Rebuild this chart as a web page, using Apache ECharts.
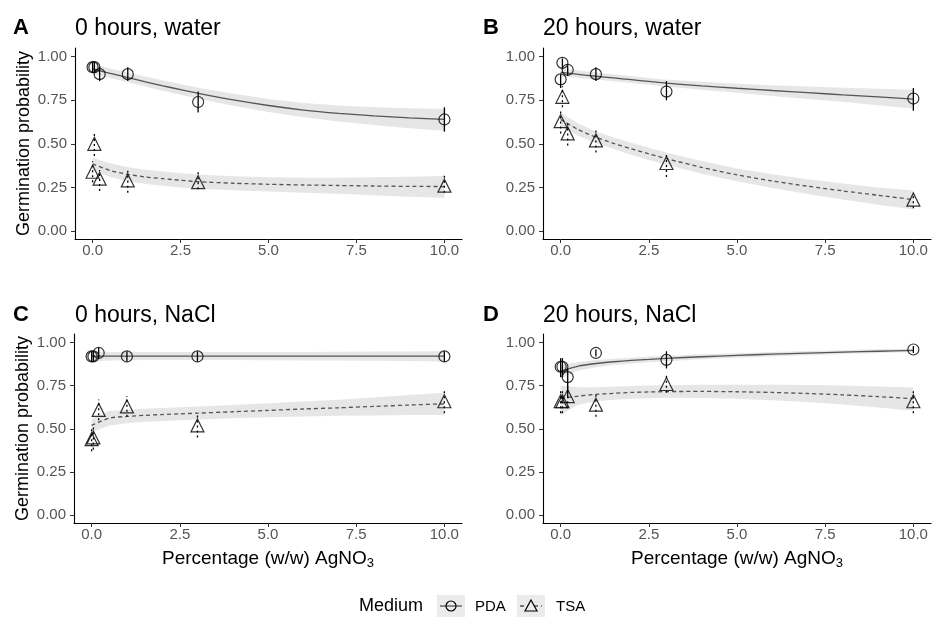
<!DOCTYPE html>
<html>
<head>
<meta charset="utf-8">
<script src="https://cdn.jsdelivr.net/npm/echarts@6/dist/echarts.min.js"></script>
<style>
html,body{margin:0;padding:0;background:#fff;}
#c{width:932px;height:617px;}
</style>
</head>
<body>
<div id="c"></div>
<script>
// ---------- data ----------
const xPts = [0, 0.05, 0.2, 1, 3, 10];
const xFit = [0, 0.5, 1, 1.5, 2, 2.5, 3, 4, 5, 6, 7, 8, 9, 10];
const xTicks = [0, 2.5, 5, 7.5, 10];
const yTicks = [0, 0.25, 0.5, 0.75, 1];
const panelLetters = ['A', 'B', 'C', 'D'];
const panelTitles = ['0 hours, water', '20 hours, water', '0 hours, NaCl', '20 hours, NaCl'];

// Panel A
const aPdaY  = [0.94, 0.94, 0.90, 0.90, 0.74, 0.64];
const aPdaLo = [0.91, 0.91, 0.86, 0.86, 0.68, 0.57];
const aPdaHi = [0.97, 0.97, 0.94, 0.94, 0.80, 0.71];
const aTsaY  = [0.34, 0.50, 0.30, 0.29, 0.28, 0.26];
const aTsaLo = [0.28, 0.43, 0.23, 0.22, 0.24, 0.22];
const aTsaHi = [0.40, 0.57, 0.35, 0.35, 0.34, 0.32];
const aPdaFit    = [0.93, 0.905, 0.88, 0.856, 0.833, 0.811, 0.79, 0.752, 0.72, 0.694, 0.675, 0.66, 0.649, 0.64];
const aPdaBandLo = [0.90, 0.878, 0.853, 0.829, 0.805, 0.782, 0.759, 0.718, 0.683, 0.652, 0.628, 0.608, 0.59, 0.575];
const aPdaBandHi = [0.955, 0.932, 0.908, 0.886, 0.864, 0.843, 0.822, 0.787, 0.758, 0.735, 0.72, 0.71, 0.704, 0.70];
const aTsaFit    = [0.385, 0.347, 0.325, 0.31, 0.30, 0.291, 0.283, 0.274, 0.268, 0.264, 0.261, 0.258, 0.256, 0.255];
const aTsaBandLo = [0.35, 0.31, 0.286, 0.27, 0.259, 0.25, 0.243, 0.234, 0.227, 0.22, 0.213, 0.205, 0.197, 0.19];
const aTsaBandHi = [0.42, 0.388, 0.366, 0.351, 0.341, 0.332, 0.324, 0.314, 0.308, 0.306, 0.306, 0.308, 0.311, 0.315];

// Panel B
const bPdaY  = [0.87, 0.965, 0.925, 0.90, 0.80, 0.76];
const bPdaLo = [0.82, 0.93, 0.89, 0.86, 0.75, 0.69];
const bPdaHi = [0.90, 0.99, 0.95, 0.94, 0.86, 0.82];
const bTsaY  = [0.63, 0.77, 0.56, 0.52, 0.39, 0.18];
const bTsaLo = [0.56, 0.71, 0.49, 0.45, 0.31, 0.13];
const bTsaHi = [0.69, 0.83, 0.62, 0.59, 0.44, 0.22];
const bPdaFit    = [0.91, 0.899, 0.888, 0.878, 0.868, 0.858, 0.848, 0.833, 0.819, 0.806, 0.794, 0.781, 0.769, 0.757];
const bPdaBandLo = [0.888, 0.879, 0.869, 0.859, 0.849, 0.839, 0.829, 0.811, 0.793, 0.775, 0.758, 0.741, 0.722, 0.703];
const bPdaBandHi = [0.932, 0.921, 0.909, 0.898, 0.888, 0.878, 0.868, 0.856, 0.845, 0.836, 0.829, 0.822, 0.816, 0.81];
const bTsaFit    = [0.64, 0.582, 0.538, 0.503, 0.472, 0.443, 0.415, 0.365, 0.322, 0.287, 0.257, 0.23, 0.205, 0.18];
const bTsaBandLo = [0.60, 0.547, 0.505, 0.47, 0.438, 0.408, 0.38, 0.329, 0.285, 0.247, 0.212, 0.18, 0.151, 0.125];
const bTsaBandHi = [0.68, 0.617, 0.571, 0.536, 0.506, 0.478, 0.45, 0.401, 0.359, 0.326, 0.297, 0.272, 0.25, 0.232];

// Panel C
const cPdaY  = [0.92, 0.92, 0.94, 0.92, 0.92, 0.92];
const cPdaLo = [0.89, 0.89, 0.91, 0.89, 0.89, 0.89];
const cPdaHi = [0.95, 0.95, 0.97, 0.95, 0.95, 0.95];
const cTsaY  = [0.44, 0.45, 0.61, 0.63, 0.52, 0.66];
const cTsaLo = [0.37, 0.38, 0.55, 0.57, 0.45, 0.59];
const cTsaHi = [0.50, 0.51, 0.67, 0.69, 0.59, 0.73];
const cPdaFit    = [0.922, 0.922, 0.922, 0.922, 0.922, 0.922, 0.922, 0.922, 0.922, 0.922, 0.922, 0.922, 0.922, 0.922];
const cPdaBandLo = [0.89, 0.897, 0.898, 0.899, 0.899, 0.899, 0.899, 0.899, 0.898, 0.897, 0.896, 0.895, 0.893, 0.89];
const cPdaBandHi = [0.95, 0.946, 0.945, 0.945, 0.945, 0.945, 0.945, 0.945, 0.946, 0.946, 0.947, 0.948, 0.949, 0.95];
const cTsaFit    = [0.52, 0.562, 0.572, 0.578, 0.583, 0.587, 0.591, 0.599, 0.607, 0.615, 0.622, 0.63, 0.638, 0.645];
const cTsaBandLo = [0.48, 0.52, 0.533, 0.54, 0.545, 0.55, 0.554, 0.561, 0.567, 0.572, 0.576, 0.578, 0.58, 0.58];
const cTsaBandHi = [0.56, 0.603, 0.611, 0.616, 0.621, 0.625, 0.629, 0.638, 0.648, 0.658, 0.669, 0.682, 0.696, 0.71];

// Panel D
const dPdaY  = [0.86, 0.86, 0.80, 0.94, 0.90, 0.96];
const dPdaLo = [0.80, 0.80, 0.68, 0.92, 0.85, 0.94];
const dPdaHi = [0.91, 0.91, 0.85, 0.96, 0.95, 0.98];
const dTsaY  = [0.66, 0.66, 0.69, 0.64, 0.76, 0.66];
const dTsaLo = [0.59, 0.59, 0.62, 0.57, 0.71, 0.59];
const dTsaHi = [0.72, 0.72, 0.75, 0.70, 0.82, 0.72];
const dPdaFit    = [0.835, 0.864, 0.879, 0.889, 0.897, 0.903, 0.909, 0.918, 0.926, 0.933, 0.939, 0.945, 0.95, 0.955];
const dPdaBandLo = [0.79, 0.838, 0.857, 0.87, 0.879, 0.886, 0.892, 0.903, 0.912, 0.92, 0.927, 0.934, 0.94, 0.945];
const dPdaBandHi = [0.87, 0.888, 0.899, 0.907, 0.913, 0.919, 0.924, 0.932, 0.939, 0.945, 0.951, 0.956, 0.961, 0.965];
const dTsaFit    = [0.675, 0.69, 0.70, 0.706, 0.711, 0.714, 0.716, 0.717, 0.715, 0.711, 0.705, 0.697, 0.687, 0.675];
const dTsaBandLo = [0.58, 0.64, 0.66, 0.668, 0.674, 0.678, 0.68, 0.679, 0.674, 0.666, 0.655, 0.641, 0.624, 0.605];
const dTsaBandHi = [0.75, 0.741, 0.741, 0.744, 0.748, 0.751, 0.753, 0.755, 0.756, 0.756, 0.754, 0.751, 0.746, 0.74];

// ---------- build ----------
const panels = [
  {pY:aPdaY,pLo:aPdaLo,pHi:aPdaHi,tY:aTsaY,tLo:aTsaLo,tHi:aTsaHi,pF:aPdaFit,pBL:aPdaBandLo,pBH:aPdaBandHi,tF:aTsaFit,tBL:aTsaBandLo,tBH:aTsaBandHi},
  {pY:bPdaY,pLo:bPdaLo,pHi:bPdaHi,tY:bTsaY,tLo:bTsaLo,tHi:bTsaHi,pF:bPdaFit,pBL:bPdaBandLo,pBH:bPdaBandHi,tF:bTsaFit,tBL:bTsaBandLo,tBH:bTsaBandHi},
  {pY:cPdaY,pLo:cPdaLo,pHi:cPdaHi,tY:cTsaY,tLo:cTsaLo,tHi:cTsaHi,pF:cPdaFit,pBL:cPdaBandLo,pBH:cPdaBandHi,tF:cTsaFit,tBL:cTsaBandLo,tBH:cTsaBandHi},
  {pY:dPdaY,pLo:dPdaLo,pHi:dPdaHi,tY:dTsaY,tLo:dTsaLo,tHi:dTsaHi,pF:dPdaFit,pBL:dPdaBandLo,pBH:dPdaBandHi,tF:dTsaFit,tBL:dTsaBandLo,tBH:dTsaBandHi}
];
const FONT = '"Liberation Sans", Arial, Helvetica, sans-serif';
const grids = [
  {left:75, top:48, width:387, height:191},
  {left:543, top:48, width:388, height:191},
  {left:74, top:334, width:388, height:189},
  {left:543, top:334, width:388, height:189}
];
const titlePos = [
  {lx:13, tx:75, top:17},
  {lx:483, tx:543, top:17},
  {lx:13, tx:75, top:304},
  {lx:483, tx:543, top:304}
];

const xAxes = [], yAxes = [], series = [], titles = [];
function zip(xs, ys){ return xs.map((x,i)=>[x, ys[i]]); }

panels.forEach((d, i) => {
  const bottom = i >= 2, left = (i % 2 === 0);
  xAxes.push({
    gridIndex:i, type:'value', min:-0.5, max:10.5,
    name: bottom ? '{a|Percentage (w/w) AgNO}{s|3}' : '',
    nameLocation:'middle', nameGap:25,
    nameTextStyle:{rich:{a:{fontSize:19, color:'#000', fontFamily:FONT}, s:{fontSize:13, color:'#000', fontFamily:FONT, verticalAlign:'bottom', padding:[9,0,0,0]}}},
    axisLine:{onZero:false, lineStyle:{color:'#000', width:1.1}},
    axisTick:{customValues:xTicks, length:4, lineStyle:{color:'#333'}},
    axisLabel:{customValues:xTicks, formatter:v=>v.toFixed(1), color:'#555', fontSize:15, fontFamily:FONT, margin:4},
    splitLine:{show:false}
  });
  yAxes.push({
    gridIndex:i, type:'value', min:-0.046, max:1.05,
    name: left ? 'Germination probability' : '',
    nameLocation:'middle', nameGap:42,
    nameTextStyle:{fontSize:18, color:'#000', fontFamily:FONT},
    axisLine:{onZero:false, lineStyle:{color:'#000', width:1.1}},
    axisTick:{customValues:yTicks, length:4, lineStyle:{color:'#333'}},
    axisLabel:{customValues:yTicks, formatter:v=>v.toFixed(2), color:'#555', fontSize:15, fontFamily:FONT, margin:8},
    splitLine:{show:false}
  });
  titles.push({text:panelLetters[i], left:titlePos[i].lx, top:titlePos[i].top, padding:0, textStyle:{fontSize:22, fontWeight:'bold', color:'#000', fontFamily:FONT}});
  titles.push({text:panelTitles[i], left:titlePos[i].tx, top:titlePos[i].top, padding:0, textStyle:{fontSize:23, fontWeight:'normal', color:'#000', fontFamily:FONT}});

  // bands
  [[d.pBL, d.pBH], [d.tBL, d.tBH]].forEach(([lo, hi]) => {
    series.push({
      type:'custom', xAxisIndex:i, yAxisIndex:i, z:1, silent:true,
      data: xFit.map((x,k)=>[x, lo[k], hi[k]]),
      renderItem:(params, api) => {
        if (params.dataIndex !== 0) return null;
        const up = xFit.map((x,k)=>api.coord([x, hi[k]]));
        const dn = xFit.map((x,k)=>api.coord([x, lo[k]])).reverse();
        return {type:'polygon', shape:{points:up.concat(dn)}, style:{fill:'rgba(205,205,205,0.5)', stroke:null}};
      }
    });
  });
  // fit lines
  series.push({type:'line', xAxisIndex:i, yAxisIndex:i, z:2, data:zip(xFit, d.pF), smooth:0.25, showSymbol:false, silent:true,
    lineStyle:{color:'#555', width:1.3, type:'solid'}});
  series.push({type:'line', xAxisIndex:i, yAxisIndex:i, z:2, data:zip(xFit, d.tF), smooth:0.25, showSymbol:false, silent:true,
    lineStyle:{color:'#555', width:1.3, type:[4,3]}});
  // error bars
  [[d.pLo, d.pHi, null], [d.tLo, d.tHi, [2,3]]].forEach(([lo, hi, dash]) => {
    series.push({
      type:'custom', xAxisIndex:i, yAxisIndex:i, z:3, silent:true,
      data: xPts.map((x,k)=>[x, lo[k], hi[k]]),
      renderItem:(params, api) => {
        const a = api.coord([api.value(0), api.value(1)]);
        const b = api.coord([api.value(0), api.value(2)]);
        return {type:'line', shape:{x1:a[0], y1:a[1], x2:b[0], y2:b[1]}, style:{stroke:'#000', lineWidth:1.3, lineDash:dash}};
      }
    });
  });
  // points
  series.push({type:'scatter', xAxisIndex:i, yAxisIndex:i, z:4, data:zip(xPts, d.pY), symbol:'circle', symbolSize:11, silent:true,
    itemStyle:{color:'rgba(0,0,0,0)', borderColor:'#000', borderWidth:1.2}});
  series.push({type:'scatter', xAxisIndex:i, yAxisIndex:i, z:4, data:zip(xPts, d.tY), symbol:'triangle', symbolSize:13, silent:true,
    itemStyle:{color:'rgba(0,0,0,0)', borderColor:'#000', borderWidth:1.2}});
});

// legend drawn as graphic elements
const legendGraphic = [
  {type:'text', left:359, top:597, style:{text:'Medium', font:'18px ' + FONT, fill:'#000'}},
  {type:'rect', shape:{x:437, y:595, width:28, height:22}, style:{fill:'#ebebeb'}},
  {type:'line', shape:{x1:440, y1:606, x2:462, y2:606}, style:{stroke:'#555', lineWidth:1.3}},
  {type:'circle', shape:{cx:451, cy:606, r:5}, style:{fill:'none', stroke:'#000', lineWidth:1.2}},
  {type:'text', left:475, top:599, style:{text:'PDA', font:'15px ' + FONT, fill:'#000'}},
  {type:'rect', shape:{x:517, y:595, width:28, height:22}, style:{fill:'#ebebeb'}},
  {type:'line', shape:{x1:520, y1:606, x2:542, y2:606}, style:{stroke:'#555', lineWidth:1.3, lineDash:[4,3]}},
  {type:'polygon', shape:{points:[[531,600],[537,611],[525,611]]}, style:{fill:'#ebebeb', stroke:'#000', lineWidth:1.2}},
  {type:'text', left:556, top:599, style:{text:'TSA', font:'15px ' + FONT, fill:'#000'}}
];

const chart = echarts.init(document.getElementById('c'), null, {renderer:'canvas'});
chart.setOption({
  animation:false,
  backgroundColor:'#fff',
  textStyle:{fontFamily:FONT},
  title:titles,
  grid:grids,
  xAxis:xAxes,
  yAxis:yAxes,
  series:series,
  graphic:legendGraphic
});
</script>
</body>
</html>
